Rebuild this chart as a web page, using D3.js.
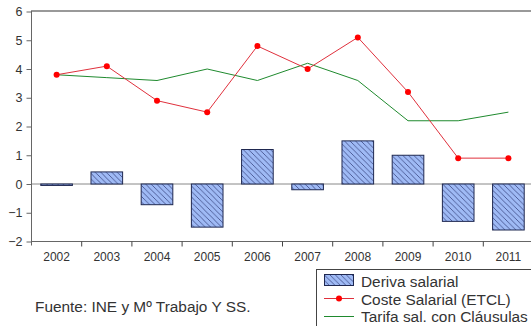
<!DOCTYPE html>
<html>
<head>
<meta charset="utf-8">
<script src="https://cdn.jsdelivr.net/npm/d3@7"></script>
<style>
  body { margin: 0; background: #fff; }
  svg { display: block; font-family: Arial, "Liberation Sans", sans-serif; }
</style>
</head>
<body>
<svg id="chart" width="531" height="326"></svg>
<script>
// Annual figures, 2002-2011
const years = ["2002", "2003", "2004", "2005", "2006", "2007", "2008", "2009", "2010", "2011"];
const derivaSalarial = [-0.05, 0.42, -0.72, -1.5, 1.2, -0.2, 1.5, 1.0, -1.3, -1.6];
const costeSalarial = [3.8, 4.1, 2.9, 2.5, 4.8, 4.0, 5.1, 3.2, 0.9, 0.9];
const tarifaSalarial = [3.8, 3.7, 3.6, 4.0, 3.6, 4.2, 3.6, 2.2, 2.2, 2.5];
const yTicks = [-2, -1, 0, 1, 2, 3, 4, 5, 6];
const legendLabels = ["Deriva salarial", "Coste Salarial (ETCL)", "Tarifa sal. con Cláusulas"];
const sourceNote = "Fuente: INE y Mº Trabajo Y SS.";

const svg = d3.select("#chart");

const plotLeft = 31.5, plotRight = 533.5, plotTop = 11.5, plotBottom = 241.5;

const x = d3.scaleBand().domain(years).range([plotLeft, plotRight]).padding(0);
const y = d3.scaleLinear().domain([-2, 6]).range([plotBottom, plotTop]);
const cx = d => x(d) + x.bandwidth() / 2;
const barW = x.bandwidth() * 0.63;

// Diagonal hatch for the bars
const defs = svg.append("defs");
const pat = defs.append("pattern")
  .attr("id", "hatch")
  .attr("patternUnits", "userSpaceOnUse")
  .attr("width", 5.5).attr("height", 5.5);
pat.append("rect").attr("width", 5.5).attr("height", 5.5).attr("fill", "#9fbaf5");
pat.append("path")
  .attr("d", "M-1,-1 L6.5,6.5 M-1,4.5 L1,6.5 M4.5,-1 L6.5,1")
  .attr("stroke", "#34407a").attr("stroke-width", 0.75);

// Top frame line
svg.append("line")
  .attr("x1", plotLeft).attr("x2", 531).attr("y1", plotTop - 0.5).attr("y2", plotTop - 0.5)
  .attr("stroke", "#777").attr("stroke-width", 1.5);

// Zero reference line
svg.append("line")
  .attr("x1", plotLeft).attr("x2", 531).attr("y1", y(0)).attr("y2", y(0))
  .attr("stroke", "#888").attr("stroke-width", 1);

// Bars
svg.append("g").selectAll("rect")
  .data(years.map((yr, i) => ({ yr, v: derivaSalarial[i] })))
  .join("rect")
  .attr("x", d => cx(d.yr) - barW / 2)
  .attr("width", barW)
  .attr("y", d => y(Math.max(0, d.v)))
  .attr("height", d => Math.abs(y(d.v) - y(0)))
  .attr("fill", "url(#hatch)")
  .attr("stroke", "#1f2850").attr("stroke-width", 1);

// Lines
const line = d3.line().x(d => cx(d.yr)).y(d => y(d.v));
const tarifaData = years.map((yr, i) => ({ yr, v: tarifaSalarial[i] }));
const costeData = years.map((yr, i) => ({ yr, v: costeSalarial[i] }));

svg.append("path").datum(tarifaData)
  .attr("d", line).attr("fill", "none")
  .attr("stroke", "#1f8a2e").attr("stroke-width", 1);

svg.append("path").datum(costeData)
  .attr("d", line).attr("fill", "none")
  .attr("stroke", "#e0303c").attr("stroke-width", 1);

svg.append("g").selectAll("circle")
  .data(costeData).join("circle")
  .attr("cx", d => cx(d.yr)).attr("cy", d => y(d.v)).attr("r", 3)
  .attr("fill", "#ff0000");

// Y axis
const yAxis = svg.append("g")
  .attr("transform", `translate(${plotLeft},0)`)
  .call(d3.axisLeft(y).tickValues(yTicks).tickSize(5).tickPadding(4).tickFormat(d3.format("d")));
yAxis.select(".domain").attr("stroke", "#666").attr("d", `M0,${plotTop - 1}V${plotBottom + 4}`);
yAxis.selectAll(".tick line").attr("stroke", "#666");
yAxis.selectAll("text").attr("font-size", 12.5).attr("fill", "#333")
  .attr("font-family", "Arial, 'Liberation Sans', sans-serif");

// X axis: ticks at category boundaries
const xAxisG = svg.append("g").attr("transform", `translate(0,${plotBottom})`);
xAxisG.append("line").attr("x1", plotLeft).attr("x2", 531).attr("y1", 0).attr("y2", 0)
  .attr("stroke", "#666");
xAxisG.selectAll(".bt").data(years.slice(1)).join("line")
  .attr("class", "bt")
  .attr("x1", d => x(d)).attr("x2", d => x(d)).attr("y1", 0).attr("y2", 5)
  .attr("stroke", "#444");
xAxisG.selectAll(".xl").data(years).join("text")
  .attr("class", "xl")
  .attr("x", d => cx(d)).attr("y", 19)
  .attr("text-anchor", "middle")
  .attr("font-size", 12).attr("fill", "#333")
  .text(d => d);

// Source note
svg.append("text")
  .attr("x", 35).attr("y", 312)
  .attr("font-size", 15.4).attr("fill", "#333")
  .text(sourceNote);

// Legend
const lg = svg.append("g");
lg.append("rect")
  .attr("x", 316.5).attr("y", 269.5).attr("width", 230).attr("height", 70)
  .attr("fill", "#fff").attr("stroke", "#444").attr("stroke-width", 1);
lg.append("rect")
  .attr("x", 324.5).attr("y", 274.5).attr("width", 29).attr("height", 11)
  .attr("fill", "url(#hatch)").attr("stroke", "#1f2850");
lg.append("line").attr("x1", 324).attr("x2", 354).attr("y1", 298.5).attr("y2", 298.5)
  .attr("stroke", "#e0303c").attr("stroke-width", 1);
lg.append("circle").attr("cx", 339).attr("cy", 298.5).attr("r", 3).attr("fill", "#ff0000");
lg.append("line").attr("x1", 324).attr("x2", 354).attr("y1", 316.5).attr("y2", 316.5)
  .attr("stroke", "#1f8a2e").attr("stroke-width", 1);
lg.selectAll(".lt").data(legendLabels).join("text")
  .attr("class", "lt")
  .attr("x", 361).attr("y", (d, i) => 287 + i * 17.5)
  .attr("font-size", 15.4).attr("fill", "#333")
  .text(d => d);
</script>
</body>
</html>
